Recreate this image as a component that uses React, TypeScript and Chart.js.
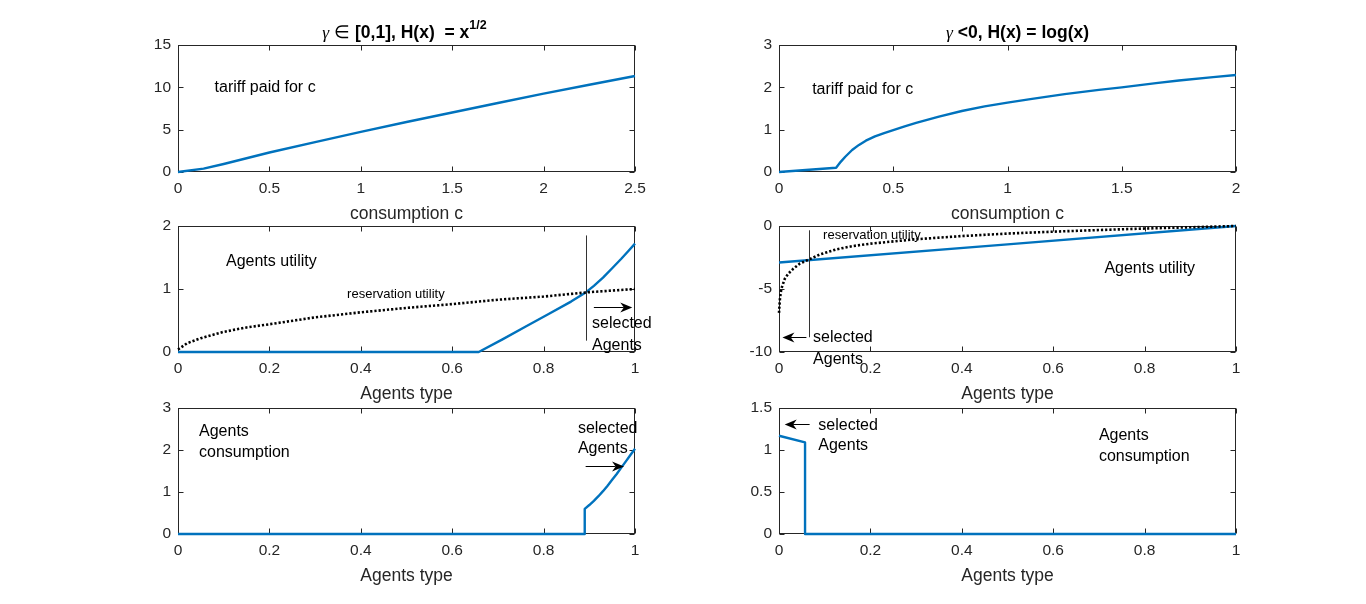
import React, { useEffect, useRef } from 'react';
import { Chart, registerables } from 'chart.js';

Chart.register(...registerables);

// ---------- data ----------
// Panel 1: gamma in [0,1], tariff paid vs consumption
const p1Consumption = [0, 0.14, 0.25, 0.5, 0.75, 1, 1.25, 1.5, 1.75, 2, 2.25, 2.5];
const p1Tariff = [0, 0.4, 0.95, 2.3, 3.53, 4.74, 5.9, 7.03, 8.15, 9.25, 10.3, 11.34];
const p1XTicks = [0, 0.5, 1, 1.5, 2, 2.5];
const p1YTicks = [0, 5, 10, 15];

// Panel 2: gamma < 0, tariff paid vs consumption
const p2Consumption = [0, 0.25, 0.27, 0.29, 0.32, 0.35, 0.38, 0.42, 0.46, 0.5, 0.55, 0.6, 0.7, 0.8, 0.9, 1.0, 1.1, 1.25, 1.4, 1.5, 1.65, 1.75, 1.9, 2];
const p2Tariff = [0, 0.1, 0.24, 0.36, 0.52, 0.64, 0.74, 0.84, 0.92, 0.99, 1.08, 1.16, 1.31, 1.44, 1.55, 1.64, 1.72, 1.84, 1.94, 2.0, 2.1, 2.16, 2.24, 2.29];
const p2XTicks = [0, 0.5, 1, 1.5, 2];
const p2YTicks = [0, 1, 2, 3];

// Panel 3: gamma in [0,1], agents utility and reservation utility
const p3Type = [0, 0.658, 0.71, 0.76, 0.81, 0.86, 0.893, 0.91, 0.93, 0.95, 0.97, 0.985, 1];
const p3Utility = [0, 0, 0.2, 0.4, 0.6, 0.8, 0.95, 1.05, 1.18, 1.33, 1.48, 1.6, 1.72];
const p3ResType = [0, 0.02, 0.05, 0.1, 0.15, 0.2, 0.3, 0.4, 0.5, 0.6, 0.7, 0.8, 0.9, 1];
const p3Reservation = [0.04, 0.14, 0.22, 0.32, 0.39, 0.44, 0.55, 0.63, 0.7, 0.76, 0.83, 0.88, 0.95, 1.0];
const p3YTicks = [0, 1, 2];

// Panel 4: gamma < 0, agents utility and reservation utility
const p4Type = [0, 0.5, 1];
const p4Utility = [-2.9, -1.46, 0];
const p4ResType = [0, 0.002, 0.005, 0.0125, 0.02, 0.031, 0.045, 0.066, 0.09, 0.126, 0.16, 0.2, 0.3, 0.4, 0.5, 0.6, 0.7, 0.8, 0.9, 1];
const p4Reservation = [-6.9, -5.8, -5.0, -4.2, -3.8, -3.4, -3.0, -2.65, -2.25, -1.85, -1.6, -1.4, -1.05, -0.8, -0.6, -0.45, -0.32, -0.2, -0.1, 0];
const p4YTicks = [-10, -5, 0];

// Panel 5: gamma in [0,1], agents consumption
const p5Type = [0, 0.89, 0.89, 0.9, 0.91, 0.92, 0.93, 0.94, 0.95, 0.96, 0.97, 0.98, 0.99, 1];
const p5Consumption = [0, 0, 0.6, 0.69, 0.79, 0.9, 1.02, 1.15, 1.29, 1.43, 1.58, 1.73, 1.88, 2.03];
const p5YTicks = [0, 1, 2, 3];

// Panel 6: gamma < 0, agents consumption
const p6Type = [0, 0.057, 0.057, 1];
const p6Consumption = [1.17, 1.09, 0, 0];
const p6YTicks = [0, 0.5, 1, 1.5];

const typeTicks = [0, 0.2, 0.4, 0.6, 0.8, 1];

// ---------- styling ----------
const BLUE = '#0072BD';
const AXIS = '#262626';
const FONT = '"Liberation Sans", Arial, Helvetica, sans-serif';
const TICK_SIZE = 15.5;
const LABEL_SIZE = 17.5;
const ANN_SIZE = 16;

const PAD_L = 70;
const PAD_R = 40;
const PAD_T = 45;
const PAD_B = 60;

type Series = { x: number[]; y: number[]; color: string; width: number; dash?: number[] };
type Ann =
  | { kind: 'text'; x: number; y: number; text: string; size?: number }
  | { kind: 'line'; x1: number; y1: number; x2: number; y2: number }
  | { kind: 'arrow'; x1: number; y1: number; x2: number; y2: number };
type Seg = { t: string; font: string; dy?: number };
type Panel = {
  left: number; top: number; w: number; h: number;
  xMin: number; xMax: number; yMin: number; yMax: number;
  xTicks: number[]; yTicks: number[]; xLabel: string;
  title?: Seg[]; titleDx?: number;
  series: Series[]; anns: Ann[];
};

const gammaFont = `italic ${LABEL_SIZE}px "Liberation Serif", serif`;
const normalTitle = `${LABEL_SIZE}px ${FONT}`;
const boldTitle = `bold ${LABEL_SIZE}px ${FONT}`;
const supFont = `bold 12.5px ${FONT}`;

const blueLine = (x: number[], y: number[]): Series => ({ x, y, color: BLUE, width: 2.4 });
const dotLine = (x: number[], y: number[]): Series => ({ x, y, color: '#000000', width: 2.6, dash: [2.2, 2] });

const panels: Panel[] = [
  {
    left: 178, top: 45, w: 457, h: 127, xMin: 0, xMax: 2.5, yMin: 0, yMax: 15,
    xTicks: p1XTicks, yTicks: p1YTicks, xLabel: 'consumption c',
    title: [
      { t: 'γ', font: gammaFont },
      { t: ' ∈ ', font: normalTitle },
      { t: '[0,1], H(x)  = x', font: boldTitle },
      { t: '1/2', font: supFont, dy: -7 },
    ],
    titleDx: -2,
    series: [blueLine(p1Consumption, p1Tariff)],
    anns: [{ kind: 'text', x: 0.2, y: 10.0, text: 'tariff paid for c' }],
  },
  {
    left: 779, top: 45, w: 457, h: 127, xMin: 0, xMax: 2, yMin: 0, yMax: 3,
    xTicks: p2XTicks, yTicks: p2YTicks, xLabel: 'consumption c',
    title: [
      { t: 'γ', font: gammaFont },
      { t: ' <0, H(x) = log(x)', font: boldTitle },
    ],
    titleDx: 10,
    series: [blueLine(p2Consumption, p2Tariff)],
    anns: [{ kind: 'text', x: 0.145, y: 1.95, text: 'tariff paid for c' }],
  },
  {
    left: 178, top: 226, w: 457, h: 126, xMin: 0, xMax: 1, yMin: 0, yMax: 2,
    xTicks: typeTicks, yTicks: p3YTicks, xLabel: 'Agents type',
    series: [dotLine(p3ResType, p3Reservation), blueLine(p3Type, p3Utility)],
    anns: [
      { kind: 'text', x: 0.105, y: 1.43, text: 'Agents utility' },
      { kind: 'text', x: 0.37, y: 0.92, text: 'reservation utility', size: 13 },
      { kind: 'line', x1: 0.893, y1: 1.85, x2: 0.893, y2: 0.18 },
      { kind: 'arrow', x1: 0.91, y1: 0.72, x2: 0.994, y2: 0.72 },
      { kind: 'text', x: 0.906, y: 0.45, text: 'selected' },
      { kind: 'text', x: 0.906, y: 0.1, text: 'Agents' },
    ],
  },
  {
    left: 779, top: 226, w: 457, h: 126, xMin: 0, xMax: 1, yMin: -10, yMax: 0,
    xTicks: typeTicks, yTicks: p4YTicks, xLabel: 'Agents type',
    series: [dotLine(p4ResType, p4Reservation), blueLine(p4Type, p4Utility)],
    anns: [
      { kind: 'text', x: 0.0965, y: -0.77, text: 'reservation utility', size: 13 },
      { kind: 'text', x: 0.712, y: -3.42, text: 'Agents utility' },
      { kind: 'line', x1: 0.066, y1: -0.34, x2: 0.066, y2: -8.83 },
      { kind: 'arrow', x1: 0.06, y1: -8.83, x2: 0.0075, y2: -8.83 },
      { kind: 'text', x: 0.0746, y: -8.88, text: 'selected' },
      { kind: 'text', x: 0.0746, y: -10.58, text: 'Agents' },
    ],
  },
  {
    left: 178, top: 408, w: 457, h: 126, xMin: 0, xMax: 1, yMin: 0, yMax: 3,
    xTicks: typeTicks, yTicks: p5YTicks, xLabel: 'Agents type',
    series: [blueLine(p5Type, p5Consumption)],
    anns: [
      { kind: 'text', x: 0.046, y: 2.45, text: 'Agents' },
      { kind: 'text', x: 0.046, y: 1.95, text: 'consumption' },
      { kind: 'text', x: 0.875, y: 2.5, text: 'selected' },
      { kind: 'text', x: 0.875, y: 2.03, text: 'Agents' },
      { kind: 'arrow', x1: 0.892, y1: 1.63, x2: 0.976, y2: 1.63 },
    ],
  },
  {
    left: 779, top: 408, w: 457, h: 126, xMin: 0, xMax: 1, yMin: 0, yMax: 1.5,
    xTicks: typeTicks, yTicks: p6YTicks, xLabel: 'Agents type',
    series: [blueLine(p6Type, p6Consumption)],
    anns: [
      { kind: 'arrow', x1: 0.067, y1: 1.31, x2: 0.0125, y2: 1.31 },
      { kind: 'text', x: 0.086, y: 1.29, text: 'selected' },
      { kind: 'text', x: 0.086, y: 1.047, text: 'Agents' },
      { kind: 'text', x: 0.7, y: 1.174, text: 'Agents' },
      { kind: 'text', x: 0.7, y: 0.924, text: 'consumption' },
    ],
  },
];

function drawArrow(ctx: CanvasRenderingContext2D, x1: number, y1: number, x2: number, y2: number) {
  const ang = Math.atan2(y2 - y1, x2 - x1);
  const c = Math.cos(ang), s = Math.sin(ang);
  const hl = 12, hw = 5;
  ctx.beginPath();
  ctx.moveTo(x1, y1);
  ctx.lineTo(x2 - c * hl * 0.7, y2 - s * hl * 0.7);
  ctx.stroke();
  const bx = x2 - c * hl, by = y2 - s * hl;
  const nx = -s, ny = c;
  ctx.beginPath();
  ctx.moveTo(x2, y2);
  ctx.lineTo(bx + nx * hw, by + ny * hw);
  ctx.lineTo(x2 - c * hl * 0.7, y2 - s * hl * 0.7);
  ctx.lineTo(bx - nx * hw, by - ny * hw);
  ctx.closePath();
  ctx.fill();
}

function decorPlugin(p: Panel) {
  return {
    id: 'panelDecor',
    beforeDatasetsDraw(chart: any) {
      const { ctx, chartArea: a, scales } = chart;
      const xs = scales.x, ys = scales.y;
      const L = Math.round(a.left) + 0.5;
      const R = Math.round(a.right) - 0.5;
      const T = Math.round(a.top) + 0.5;
      const B = Math.round(a.bottom) - 0.5;
      ctx.save();
      ctx.strokeStyle = AXIS;
      ctx.lineWidth = 1;
      ctx.strokeRect(L, T, R - L, B - T);
      ctx.beginPath();
      for (const v of p.xTicks) {
        const px = Math.round(xs.getPixelForValue(v)) + 0.5;
        ctx.moveTo(px, B); ctx.lineTo(px, B - 5);
        ctx.moveTo(px, T); ctx.lineTo(px, T + 5);
      }
      for (const v of p.yTicks) {
        const py = Math.round(ys.getPixelForValue(v)) + 0.5;
        ctx.moveTo(L, py); ctx.lineTo(L + 5, py);
        ctx.moveTo(R, py); ctx.lineTo(R - 5, py);
      }
      ctx.stroke();
      ctx.restore();
    },
    afterDraw(chart: any) {
      const { ctx, chartArea: a, scales } = chart;
      const xs = scales.x, ys = scales.y;
      ctx.save();
      // axis label
      ctx.fillStyle = AXIS;
      ctx.font = `${LABEL_SIZE}px ${FONT}`;
      ctx.textAlign = 'center';
      ctx.textBaseline = 'middle';
      ctx.fillText(p.xLabel, (a.left + a.right) / 2, a.bottom + 42);
      // title
      if (p.title) {
        ctx.fillStyle = '#000000';
        ctx.textAlign = 'left';
        let total = 0;
        for (const s of p.title) { ctx.font = s.font; total += ctx.measureText(s.t).width; }
        let x = (a.left + a.right) / 2 + (p.titleDx || 0) - total / 2;
        const y = a.top - 12;
        for (const s of p.title) {
          ctx.font = s.font;
          ctx.fillText(s.t, x, y + (s.dy || 0));
          x += ctx.measureText(s.t).width;
        }
      }
      // annotations
      ctx.fillStyle = '#000000';
      ctx.strokeStyle = '#000000';
      ctx.textAlign = 'left';
      ctx.textBaseline = 'middle';
      for (const an of p.anns) {
        if (an.kind === 'text') {
          ctx.fillStyle = '#000000';
          ctx.font = `${an.size || ANN_SIZE}px ${FONT}`;
          ctx.fillText(an.text, xs.getPixelForValue(an.x), ys.getPixelForValue(an.y));
        } else if (an.kind === 'line') {
          ctx.strokeStyle = '#333333';
          ctx.lineWidth = 1;
          const px = Math.round(xs.getPixelForValue(an.x1)) + 0.5;
          ctx.beginPath();
          ctx.moveTo(px, ys.getPixelForValue(an.y1));
          ctx.lineTo(Math.round(xs.getPixelForValue(an.x2)) + 0.5, ys.getPixelForValue(an.y2));
          ctx.stroke();
        } else {
          ctx.strokeStyle = '#000000';
          ctx.fillStyle = '#000000';
          ctx.lineWidth = 1;
          const py = Math.round(ys.getPixelForValue(an.y1)) + 0.5;
          drawArrow(ctx, xs.getPixelForValue(an.x1), py, xs.getPixelForValue(an.x2), py);
        }
      }
      ctx.restore();
    },
  };
}

function PanelChart({ p }: { p: Panel }) {
  const ref = useRef<HTMLCanvasElement | null>(null);
  const cw = p.w + PAD_L + PAD_R;
  const chh = p.h + PAD_T + PAD_B;
  useEffect(() => {
    if (!ref.current) return;
    const tickFont = { family: FONT, size: TICK_SIZE };
    const chart = new Chart(ref.current, {
      type: 'scatter',
      data: {
        datasets: p.series.map((s) => ({
          data: s.x.map((xv, i) => ({ x: xv, y: s.y[i] })),
          showLine: true,
          borderColor: s.color,
          backgroundColor: s.color,
          borderWidth: s.width,
          borderDash: s.dash || [],
          borderCapStyle: 'butt',
          borderJoinStyle: 'round',
          pointRadius: 0,
          pointHoverRadius: 0,
          tension: 0,
          fill: false,
          clip: 4,
        })),
      },
      options: {
        animation: false,
        responsive: false,
        devicePixelRatio: 1,
        events: [],
        layout: { padding: { left: 0, top: PAD_T, right: PAD_R, bottom: 0 } },
        plugins: { legend: { display: false }, tooltip: { enabled: false }, title: { display: false } },
        scales: {
          x: {
            type: 'linear',
            min: p.xMin,
            max: p.xMax,
            grid: { display: false, drawTicks: false },
            border: { display: false },
            ticks: {
              font: tickFont, color: AXIS, padding: 7, maxRotation: 0, autoSkip: false,
              callback: (v: any) => String(v),
            },
            afterBuildTicks: (s: any) => { s.ticks = p.xTicks.map((v) => ({ value: v })); },
            afterFit: (s: any) => { s.height = PAD_B; s.paddingLeft = 0; s.paddingRight = 0; },
          },
          y: {
            type: 'linear',
            min: p.yMin,
            max: p.yMax,
            grid: { display: false, drawTicks: false },
            border: { display: false },
            ticks: {
              font: tickFont, color: AXIS, padding: 7, autoSkip: false,
              callback: (v: any) => String(v),
            },
            afterBuildTicks: (s: any) => { s.ticks = p.yTicks.map((v) => ({ value: v })); },
            afterFit: (s: any) => { s.width = PAD_L; s.paddingTop = 0; s.paddingBottom = 0; },
          },
        },
      } as any,
      plugins: [decorPlugin(p)],
    });
    return () => chart.destroy();
  }, []);
  return (
    <canvas
      ref={ref}
      width={cw}
      height={chh}
      style={{ position: 'absolute', left: p.left - PAD_L, top: p.top - PAD_T, width: cw, height: chh }}
    />
  );
}

export default function App() {
  return (
    <div style={{ position: 'absolute', left: 0, top: 0, width: 1366, height: 604, background: '#ffffff', overflow: 'hidden' }}>
      {panels.map((p, i) => (
        <PanelChart key={i} p={p} />
      ))}
    </div>
  );
}
